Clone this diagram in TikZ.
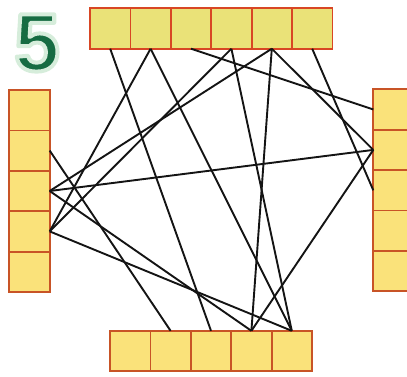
\documentclass[tikz,border=0pt]{standalone}
\usepackage{fontspec}
\setmainfont{Liberation Sans}
\usetikzlibrary{positioning}

\definecolor{cellfill}{RGB}{250,226,122}
\definecolor{celledge}{RGB}{200,84,38}
\definecolor{digitgreen}{RGB}{22,108,66}

% stroked glyph outline (fill, then stroke in a pale green)
\newcommand\rimtext[1]{\special{pdf:literal direct 0.84 0.93 0.86 RG 4 w 1 j 2 Tr}#1\special{pdf:literal direct 0 Tr}}

\begin{document}
\begin{tikzpicture}[x=1pt, y=-1pt,
        cell/.style={rectangle, draw=celledge, fill=cellfill, line width=1.8pt,
                     minimum size=40.4pt, inner sep=0pt, outer sep=0pt},
        toprow/.style={cell, fill={rgb,255:red,234;green,226;blue,120}, draw={rgb,255:red,216;green,70;blue,36}},
        link/.style={line width=1.9pt, black!92},
        digit/.style={font=\bfseries\fontsize{82}{82}\selectfont, inner sep=0pt, text=digitgreen},
    ]
    \clip (0,0) rectangle (407,376);

    % the number
    \node[digit] (five) at (37,43) {\rimtext{5}};

    % top row
    \node[toprow] (t1) at (110.2,28.5) {};
    \foreach \i [count=\j from 1] in {2,...,6}
        \node[toprow, right=0pt of t\j] (t\i) {};

    % left column
    \node[cell] (l1) at (29.5,110.2) {};
    \foreach \i [count=\j from 1] in {2,...,5}
        \node[cell, below=0pt of l\j] (l\i) {};

    % right column
    \node[cell] (r1) at (393.5,109.5) {};
    \foreach \i [count=\j from 1] in {2,...,5}
        \node[cell, below=0pt of r\j] (r\i) {};

    % bottom row
    \node[cell] (b1) at (130.2,351) {};
    \foreach \i [count=\j from 1] in {2,...,5}
        \node[cell, right=0pt of b\j] (b\i) {};

    % connections
    \foreach \p/\q in {t1.south/b3.north, t2.south/l4.east, t2.south/b5.north,
                       t3.south/r1.west, t4.south/l4.east, t4.south/b5.north,
                       t5.south/l3.east, t5.south/b4.north, t5.south/r2.west,
                       t6.south/r3.west, l2.east/b2.north, l3.east/r2.west,
                       l3.east/b4.north, l4.east/b5.north, r2.west/b4.north}
        \draw[link] (\p) -- (\q);
\end{tikzpicture}
\end{document}
